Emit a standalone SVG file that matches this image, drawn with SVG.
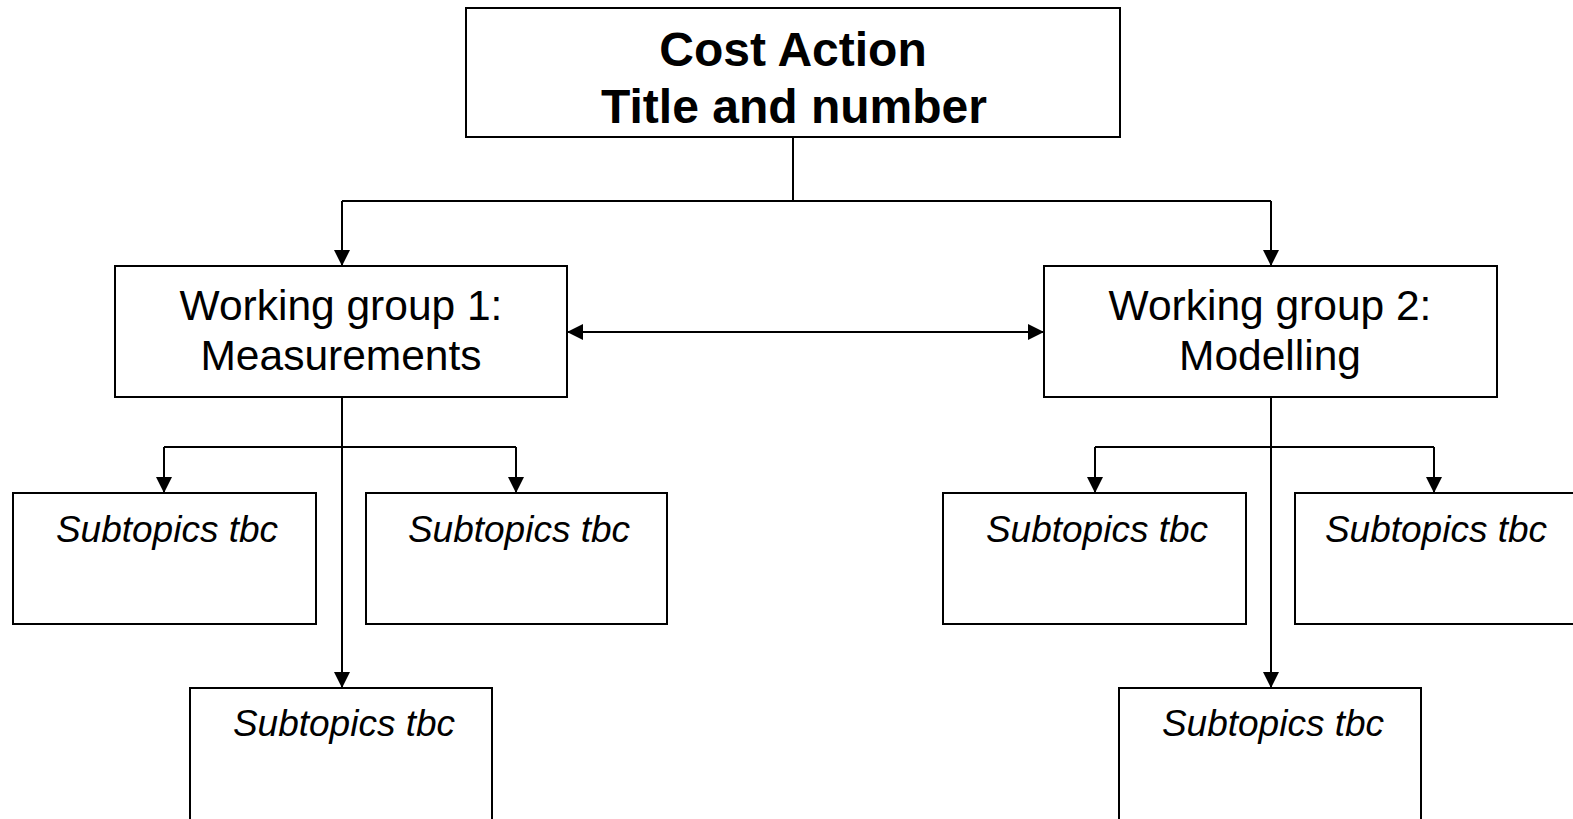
<svg xmlns="http://www.w3.org/2000/svg" width="1573" height="819" viewBox="0 0 1573 819">
<style>
.box{fill:#fff;stroke:#000;stroke-width:2}
.conn{fill:none;stroke:#000;stroke-width:2}
.title{font-family:"Liberation Sans",Arial,sans-serif;font-weight:bold;font-size:48px;text-anchor:middle;fill:#000}
.wg{font-family:"Liberation Sans",Arial,sans-serif;font-size:42.5px;text-anchor:middle;fill:#000}
.sub{font-family:"Liberation Sans",Arial,sans-serif;font-style:italic;font-size:37px;text-anchor:middle;fill:#000}
</style>
<defs>
<marker id="arr" viewBox="0 0 16 16" refX="16" refY="8" markerWidth="16" markerHeight="16" markerUnits="userSpaceOnUse" orient="auto-start-reverse">
<path d="M0,0 L16,8 L0,16 z" fill="#000"/>
</marker>
</defs>
<rect width="1573" height="819" fill="#fff"/>
<g id="connectors">
<line class="conn" x1="793" y1="137" x2="793" y2="201"/>
<path class="conn" d="M342,201 H1271"/>
<line class="conn" x1="342" y1="201" x2="342" y2="266" marker-end="url(#arr)"/>
<line class="conn" x1="1271" y1="201" x2="1271" y2="266" marker-end="url(#arr)"/>
<line class="conn" x1="567" y1="332" x2="1044" y2="332" marker-start="url(#arr)" marker-end="url(#arr)"/>
<line class="conn" x1="342" y1="397" x2="342" y2="688" marker-end="url(#arr)"/>
<path class="conn" d="M164,447 H516"/>
<line class="conn" x1="164" y1="447" x2="164" y2="493" marker-end="url(#arr)"/>
<line class="conn" x1="516" y1="447" x2="516" y2="493" marker-end="url(#arr)"/>
<line class="conn" x1="1271" y1="397" x2="1271" y2="688" marker-end="url(#arr)"/>
<path class="conn" d="M1095,447 H1434"/>
<line class="conn" x1="1095" y1="447" x2="1095" y2="493" marker-end="url(#arr)"/>
<line class="conn" x1="1434" y1="447" x2="1434" y2="493" marker-end="url(#arr)"/>
</g>
<g id="node-cost-action">
<rect class="box" x="466" y="8" width="654" height="129"/>
<text class="title" x="793" y="66">Cost Action</text>
<text class="title" x="794" y="123">Title and number</text>
</g>
<g id="node-wg1">
<rect class="box" x="115" y="266" width="452" height="131"/>
<text class="wg" x="341" y="320">Working group 1:</text>
<text class="wg" x="341" y="370">Measurements</text>
</g>
<g id="node-wg2">
<rect class="box" x="1044" y="266" width="453" height="131"/>
<text class="wg" x="1270" y="320">Working group 2:</text>
<text class="wg" x="1270" y="370">Modelling</text>
</g>
<g id="node-wg1-sub1">
<rect class="box" x="13" y="493" width="303" height="131"/>
<text class="sub" x="167" y="542">Subtopics tbc</text>
</g>
<g id="node-wg1-sub2">
<rect class="box" x="366" y="493" width="301" height="131"/>
<text class="sub" x="519" y="542">Subtopics tbc</text>
</g>
<g id="node-wg1-sub3">
<rect class="box" x="190" y="688" width="302" height="140"/>
<text class="sub" x="344" y="736">Subtopics tbc</text>
</g>
<g id="node-wg2-sub1">
<rect class="box" x="943" y="493" width="303" height="131"/>
<text class="sub" x="1097" y="542">Subtopics tbc</text>
</g>
<g id="node-wg2-sub2">
<rect class="box" x="1295" y="493" width="302" height="131"/>
<text class="sub" x="1436" y="542">Subtopics tbc</text>
</g>
<g id="node-wg2-sub3">
<rect class="box" x="1119" y="688" width="302" height="140"/>
<text class="sub" x="1273" y="736">Subtopics tbc</text>
</g>
</svg>
